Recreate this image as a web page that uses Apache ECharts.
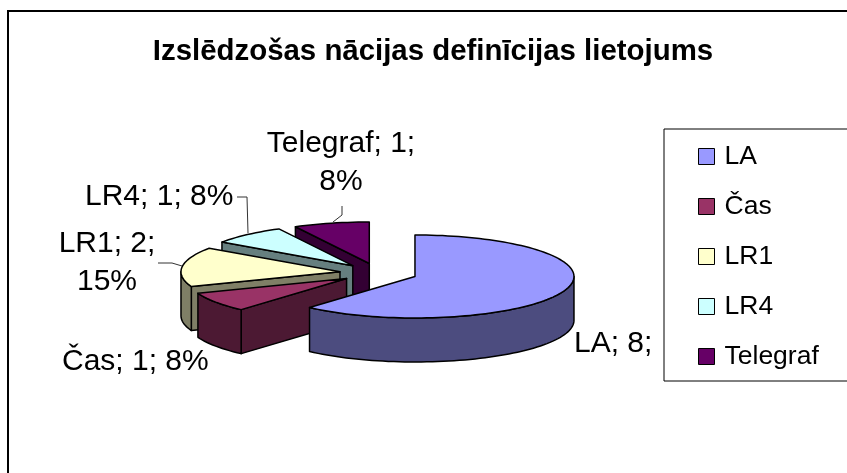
<!DOCTYPE html>
<html>
<head>
<meta charset="utf-8">
<style>
  html, body { margin: 0; padding: 0; background: #fff; }
  #box { width: 847px; height: 473px; }
</style>
<script src="https://cdn.jsdelivr.net/npm/echarts@6/dist/echarts.min.js"></script>
</head>
<body>
<div id="box"></div>
<script>
const categories = ["LA", "Čas", "LR1", "LR4", "Telegraf"];
const values = [8, 1, 2, 1, 1];
const topColors = ["#9999FF", "#993366", "#FFFFCC", "#CCFFFF", "#660066"];
const sideColors = ["#4C4C7F", "#4C1933", "#7F7F66", "#667F7F", "#330033"];
const titleText = "Izslēdzošas nācijas definīcijas lietojums";

// pie geometry: tilted ellipse + extruded depth
const cx = 378.6, cy = 273, rx = 159, ry = 41.5, depth = 44;
const explodeX = 38.9, explodeY = 9.8;
const total = values.reduce((a, b) => a + b, 0);

function ringPoint(ox, oy, deg, dy) {
  let r = deg * Math.PI / 180;
  return [ox + rx * Math.sin(r), oy - ry * Math.cos(r) + (dy || 0)];
}

function arcPoints(ox, oy, from, to, dy) {
  let pts = [], n = Math.max(2, Math.ceil((to - from) / 2));
  for (let i = 0; i <= n; i++) {
    pts.push(ringPoint(ox, oy, from + (to - from) * i / n, dy));
  }
  return pts;
}

function sliceRender(idx) {
  let before = values.slice(0, idx).reduce((a, b) => a + b, 0);
  let start = before / total * 360;
  let end = (before + values[idx]) / total * 360;
  let mid = (start + end) / 2 * Math.PI / 180;
  let ox = cx + explodeX * Math.sin(mid);
  let oy = cy - explodeY * Math.cos(mid);
  return function() {
    let stroke = { stroke: "#000", lineWidth: 1.5, lineJoin: "round" };
    let children = [];
    // cut face, only when it turns towards the viewer
    if (Math.cos((start - 90) * Math.PI / 180) < -0.001) {
      let a = ringPoint(ox, oy, start);
      children.push({
        type: "polygon",
        shape: { points: [[ox, oy], a, [a[0], a[1] + depth], [ox, oy + depth]] },
        style: Object.assign({ fill: sideColors[idx] }, stroke)
      });
    }
    // outer rim in front
    let from = Math.max(start, 90), to = Math.min(end, 270);
    if (to > from) {
      let up = arcPoints(ox, oy, from, to, 0);
      let down = arcPoints(ox, oy, from, to, depth).reverse();
      children.push({
        type: "polygon",
        shape: { points: up.concat(down) },
        style: Object.assign({ fill: sideColors[idx] }, stroke)
      });
    }
    children.push({
      type: "polygon",
      shape: { points: [[ox, oy]].concat(arcPoints(ox, oy, start, end, 0)) },
      style: Object.assign({ fill: topColors[idx] }, stroke)
    });
    return { type: "group", children: children };
  };
}

let series = categories.map((name, i) => ({
  type: "custom",
  name: name,
  coordinateSystem: "none",
  z: 10 - i,
  silent: true,
  itemStyle: { color: topColors[i] },
  data: [values[i]],
  renderItem: sliceRender(i)
}));

function label(text, x, y, align) {
  return {
    type: "text",
    z: 20,
    style: {
      text: text, x: x, y: y, align: align || "left", verticalAlign: "top",
      font: "30px 'Liberation Sans'", fill: "#000", lineHeight: 38
    }
  };
}

function leader(points) {
  return {
    type: "polyline",
    z: 20,
    shape: { points: points },
    style: { stroke: "#333", lineWidth: 1, fill: null }
  };
}

let chart = echarts.init(document.getElementById("box"), null, { renderer: "canvas" });
chart.setOption({
  animation: false,
  backgroundColor: "#fff",
  title: {
    text: titleText,
    left: 428,
    textAlign: "center",
    top: 32,
    textStyle: { fontFamily: "Liberation Sans", fontSize: 29.4, fontWeight: "bold", color: "#000" }
  },
  legend: {
    orient: "vertical",
    left: 664,
    top: 129,
    padding: [14, 60, 11, 34],
    itemGap: 23,
    itemWidth: 16,
    itemHeight: 16,
    icon: "rect",
    borderColor: "#000",
    borderWidth: 1,
    backgroundColor: "#fff",
    z: 30,
    textStyle: { fontFamily: "Liberation Sans", fontSize: 26.5, color: "#000", padding: [0, 0, 0, 5] },
    itemStyle: { borderColor: "#000", borderWidth: 1 },
    data: categories
  },
  graphic: [
    { type: "rect", z: 0, shape: { x: 8, y: 11, width: 900, height: 500 }, style: { fill: "#fff", stroke: "#000", lineWidth: 2 } },
    label("Telegraf; 1;\n8%", 341, 125, "center"),
    label("LR4; 1; 8%", 85, 178),
    label("LR1; 2;\n15%", 107, 225, "center"),
    label("Čas; 1; 8%", 62, 343),
    label("LA; 8;", 574, 325),
    leader([[342, 206], [342, 215], [333, 222]]),
    leader([[237, 197], [247, 197], [248, 233]]),
    leader([[158, 263], [172, 263], [182, 266]])
  ],
  series: series
});
</script>
</body>
</html>
